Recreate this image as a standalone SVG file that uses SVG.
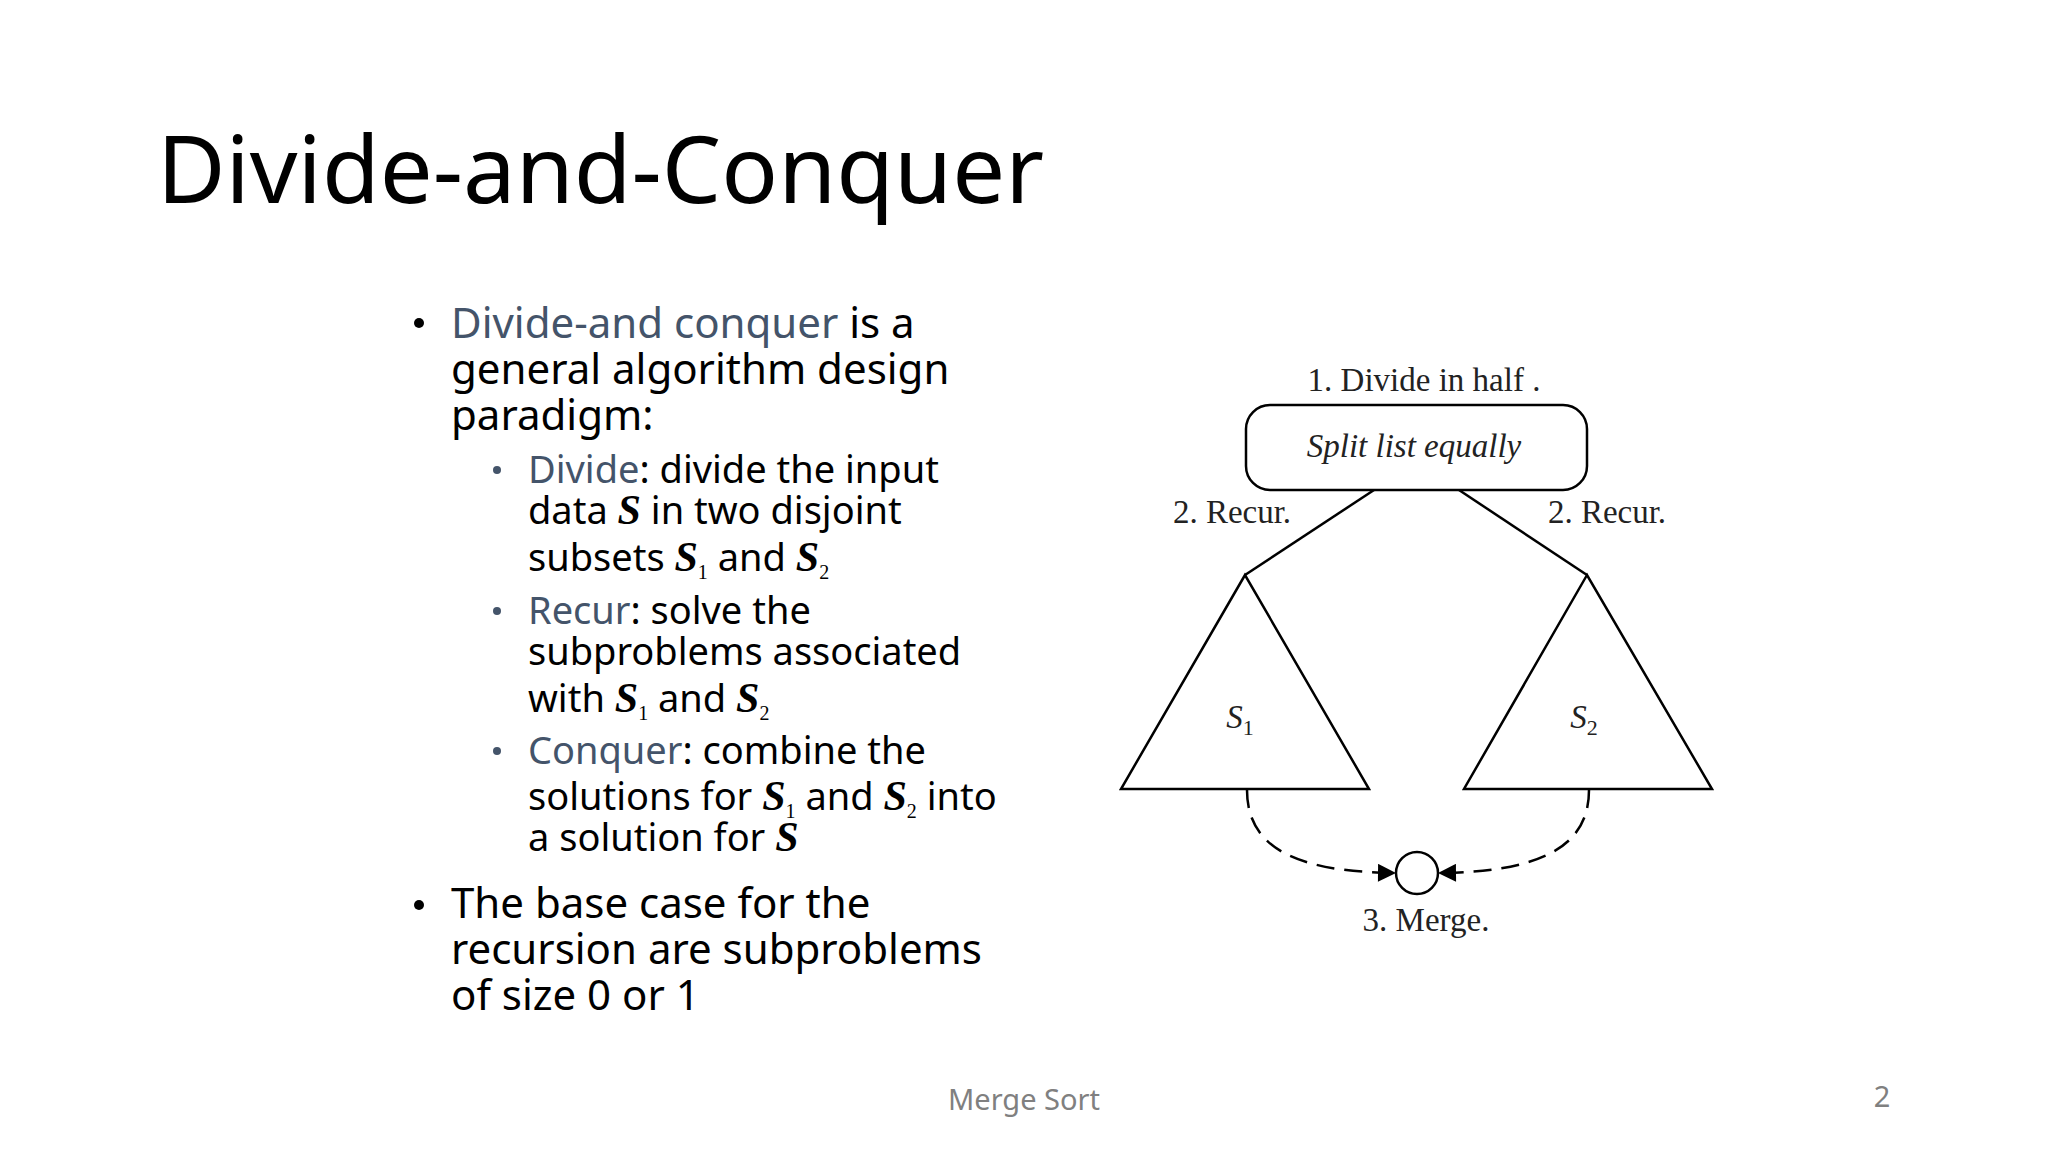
<svg xmlns="http://www.w3.org/2000/svg" width="2048" height="1152" viewBox="0 0 2048 1152">
<style>
.t{font-family:"Noto Sans","Open Sans",sans-serif;fill:#000}
.h{fill:#44546A}
.m{font-family:"Liberation Serif",serif;font-style:italic;font-weight:bold;font-size:42px}
.sb{font-family:"Liberation Serif",serif;font-size:20px}
.d{font-family:"Liberation Serif",serif;fill:#222;font-size:33px;text-anchor:middle}
.ln{fill:none;stroke:#000;stroke-width:2.5}
</style>
<defs>
<marker id="arw" viewBox="0 0 10 10" refX="10" refY="5" markerWidth="30" markerHeight="18" markerUnits="userSpaceOnUse" orient="auto"><path d="M0,0 L10,5 L0,10 Z" fill="#000"/></marker>
</defs>
<rect width="2048" height="1152" fill="#fff"/>
<text class="t" x="157" y="203" font-size="94">Divide-and-Conquer</text>
<g id="text" class="t">
<circle cx="419" cy="323" r="5" fill="#000"/>
<text class="t" x="451" y="338" font-size="42"><tspan class="h">Divide-and conquer</tspan> is a</text>
<text class="t" x="451" y="384" font-size="42">general algorithm design</text>
<text class="t" x="451" y="430" font-size="42">paradigm:</text>
<g font-size="38">
<circle cx="497" cy="470" r="4" fill="#44546A"/>
<text class="t" x="528" y="483"><tspan class="h">Divide</tspan>: divide the input</text>
<text class="t" x="528" y="524">data <tspan class="m">S</tspan> in two disjoint</text>
<text class="t" x="528" y="571">subsets <tspan class="m">S</tspan><tspan class="sb" dy="8">1</tspan><tspan dy="-8"> and </tspan><tspan class="m">S</tspan><tspan class="sb" dy="8">2</tspan></text>
<circle cx="497" cy="611" r="4" fill="#44546A"/>
<text class="t" x="528" y="624"><tspan class="h">Recur</tspan>: solve the</text>
<text class="t" x="528" y="665">subproblems associated</text>
<text class="t" x="528" y="712">with <tspan class="m">S</tspan><tspan class="sb" dy="8">1</tspan><tspan dy="-8"> and </tspan><tspan class="m">S</tspan><tspan class="sb" dy="8">2</tspan></text>
<circle cx="497" cy="751" r="4" fill="#44546A"/>
<text class="t" x="528" y="764"><tspan class="h">Conquer</tspan>: combine the</text>
<text class="t" x="528" y="810">solutions for <tspan class="m">S</tspan><tspan class="sb" dy="8">1</tspan><tspan dy="-8"> and </tspan><tspan class="m">S</tspan><tspan class="sb" dy="8">2</tspan><tspan dy="-8"> into</tspan></text>
<text class="t" x="528" y="851">a solution for <tspan class="m">S</tspan></text>
</g>
<circle cx="419" cy="905" r="5" fill="#000"/>
<text class="t" x="451" y="918" font-size="42">The base case for the</text>
<text class="t" x="451" y="964" font-size="42">recursion are subproblems</text>
<text class="t" x="451" y="1010" font-size="42">of size 0 or 1</text>
</g>
<g id="split">
<text class="d" x="1424" y="391">1. Divide in half .</text>
<rect class="ln" x="1246" y="405" width="341" height="85" rx="24"/>
<text class="d" x="1414" y="457" font-style="italic">Split list equally</text>
</g>
<g id="s1">
<path class="ln" d="M1245 575 L1121 789 L1369 789 Z"/>
<text class="d" x="1240" y="728" font-style="italic">S<tspan font-size="22" font-style="normal" dy="7">1</tspan></text>
</g>
<g id="s2">
<path class="ln" d="M1587 575 L1464 789 L1712 789 Z"/>
<text class="d" x="1584" y="728" font-style="italic">S<tspan font-size="22" font-style="normal" dy="7">2</tspan></text>
</g>
<g id="merge">
<circle class="ln" cx="1417" cy="873" r="21"/>
<text class="d" x="1426" y="931">3. Merge.</text>
</g>
<g id="connectors">
<path class="ln" d="M1374 490 L1245 575"/>
<path class="ln" d="M1459 490 L1587 575"/>
<text class="d" x="1232" y="523">2. Recur.</text>
<text class="d" x="1607" y="523">2. Recur.</text>
<path class="ln" stroke-dasharray="18,10" marker-end="url(#arw)" d="M1247 790 C1247 850 1300 872 1396 873"/>
<path class="ln" stroke-dasharray="18,10" marker-end="url(#arw)" d="M1589 790 C1589 850 1535 872 1438 873"/>
</g>
<text x="1024" y="1110" font-family="Noto Sans,sans-serif" font-size="29" fill="#808080" text-anchor="middle">Merge Sort</text>
<text x="1882" y="1107" font-family="Noto Sans,sans-serif" font-size="29" fill="#808080" text-anchor="middle">2</text>
</svg>
